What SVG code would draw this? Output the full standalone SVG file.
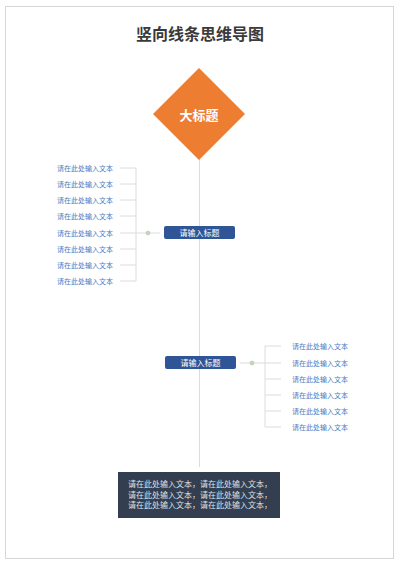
<svg xmlns="http://www.w3.org/2000/svg" width="400" height="565" viewBox="0 0 400 565">
<style>
.leaf{font-family:"Noto Sans CJK SC","Liberation Sans",sans-serif;font-size:7px;fill:#4a7cbf;dominant-baseline:central}
.ln{stroke:#dcdcdc;stroke-width:1;fill:none}
.topic{fill:#2f5597}
.tt{font-family:"Noto Sans CJK SC","Liberation Sans",sans-serif;font-size:8px;fill:#ffffff;text-anchor:middle;dominant-baseline:central}
.body{font-family:"Noto Sans CJK SC","Liberation Sans",sans-serif;font-size:8px;fill:#dde1e8}
.dot{fill:#c5d6c0;stroke:#aebfa8;stroke-width:0.5}
</style>
<rect x="0" y="0" width="400" height="565" fill="#ffffff"/>
<rect x="5.5" y="6.5" width="388" height="552" fill="none" stroke="#d6d6d6" stroke-width="1"/>
<text x="200" y="33" font-family="'Noto Sans CJK SC','Liberation Sans',sans-serif" font-size="16" font-weight="bold" fill="#3a3a3a" text-anchor="middle" dominant-baseline="central">竖向线条思维导图</text>
<g id="connectors">
<line class="ln" x1="199.5" y1="158" x2="199.5" y2="467"/>
<line class="ln" x1="120" y1="233" x2="160" y2="233"/>
<line class="ln" x1="136" y1="168" x2="136" y2="281"/>
<line class="ln" x1="120" y1="168" x2="136" y2="168"/>
<line class="ln" x1="120" y1="184" x2="136" y2="184"/>
<line class="ln" x1="120" y1="200" x2="136" y2="200"/>
<line class="ln" x1="120" y1="216" x2="136" y2="216"/>
<line class="ln" x1="120" y1="249" x2="136" y2="249"/>
<line class="ln" x1="120" y1="265" x2="136" y2="265"/>
<line class="ln" x1="120" y1="281" x2="136" y2="281"/>
<circle class="dot" cx="148" cy="233" r="2"/>
<line class="ln" x1="240" y1="363" x2="281" y2="363"/>
<line class="ln" x1="265" y1="346" x2="265" y2="427"/>
<line class="ln" x1="265" y1="346" x2="281" y2="346"/>
<line class="ln" x1="265" y1="379" x2="281" y2="379"/>
<line class="ln" x1="265" y1="395" x2="281" y2="395"/>
<line class="ln" x1="265" y1="411" x2="281" y2="411"/>
<line class="ln" x1="265" y1="427" x2="281" y2="427"/>
<circle class="dot" cx="252" cy="363" r="2"/>
</g>
<g id="root">
<polygon points="199,68 245,114 199,160 153,114" fill="#ed7d31"/>
<text x="199" y="114" font-family="'Noto Sans CJK SC','Liberation Sans',sans-serif" font-size="13" font-weight="bold" fill="#ffffff" text-anchor="middle" dominant-baseline="central">大标题</text>
</g>
<g id="topic1">
<rect class="topic" x="164" y="226" width="71" height="13" rx="2"/>
<text class="tt" x="199.5" y="232.5">请输入标题</text>
</g>
<g id="leaves1">
<text class="leaf" x="57" y="168">请在此处输入文本</text>
<text class="leaf" x="57" y="184">请在此处输入文本</text>
<text class="leaf" x="57" y="200">请在此处输入文本</text>
<text class="leaf" x="57" y="216">请在此处输入文本</text>
<text class="leaf" x="57" y="233">请在此处输入文本</text>
<text class="leaf" x="57" y="249">请在此处输入文本</text>
<text class="leaf" x="57" y="265">请在此处输入文本</text>
<text class="leaf" x="57" y="281">请在此处输入文本</text>
</g>
<g id="topic2">
<rect class="topic" x="165" y="356" width="71" height="13" rx="2"/>
<text class="tt" x="200.5" y="362.5">请输入标题</text>
</g>
<g id="leaves2">
<text class="leaf" x="292" y="346">请在此处输入文本</text>
<text class="leaf" x="292" y="363">请在此处输入文本</text>
<text class="leaf" x="292" y="379">请在此处输入文本</text>
<text class="leaf" x="292" y="395">请在此处输入文本</text>
<text class="leaf" x="292" y="411">请在此处输入文本</text>
<text class="leaf" x="292" y="427">请在此处输入文本</text>
</g>
<g id="summary">
<rect x="118" y="472" width="162" height="46" fill="#333f50"/>
<text class="body" x="128" y="487">请在此处输入文本，请在此处输入文本，</text>
<text class="body" x="128" y="497.5">请在此处输入文本，请在此处输入文本，</text>
<text class="body" x="128" y="508">请在此处输入文本，请在此处输入文本，</text>
</g>
</svg>
